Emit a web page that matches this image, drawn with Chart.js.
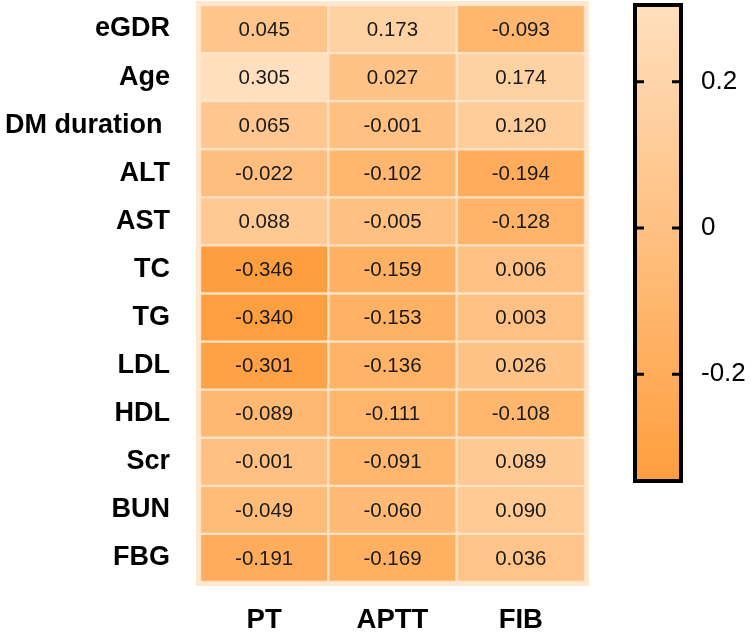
<!DOCTYPE html>
<html>
<head>
<meta charset="utf-8">
<script src="https://cdn.jsdelivr.net/npm/chart.js@4"></script>
<style>
  html, body { margin: 0; padding: 0; background: #fff; }
  #wrap { position: relative; width: 754px; height: 633px; }
  #heatBox { position: absolute; left: 0; top: 0; width: 600px; height: 633px; }
  #barBox { position: absolute; left: 620px; top: 0; width: 134px; height: 486px; }
</style>
</head>
<body>
<div id="wrap">
  <div id="heatBox"><canvas id="heat"></canvas></div>
  <div id="barBox"><canvas id="cbar"></canvas></div>
</div>
<script>
// ===== data =====
const rowNames = ['eGDR', 'Age', 'DM duration ', 'ALT', 'AST', 'TC', 'TG', 'LDL', 'HDL', 'Scr', 'BUN', 'FBG'];
const colNames = ['PT', 'APTT', 'FIB'];
const ptVals   = [0.045, 0.305, 0.065, -0.022, 0.088, -0.346, -0.340, -0.301, -0.089, -0.001, -0.049, -0.191];
const apttVals = [0.173, 0.027, -0.001, -0.102, -0.005, -0.159, -0.153, -0.136, -0.111, -0.091, -0.060, -0.169];
const fibVals  = [-0.093, 0.174, 0.120, -0.194, -0.128, 0.006, 0.003, 0.026, -0.108, 0.089, 0.090, 0.036];
const colorbarTicks = [-0.2, 0, 0.2];
const scaleMin = -0.346;
const scaleMax = 0.305;

const LIGHT = [255, 223, 190];
const DARK  = [255, 158, 62];
const GAP = '#FFE3C7';
const EDGE = '#FFE7D0';

Chart.defaults.font.family = '"Liberation Sans", Arial, sans-serif';
Chart.defaults.color = '#000';
Chart.defaults.animation = false;

function colorFor(v) {
  const t = Math.max(0, Math.min(1, (v - scaleMin) / (scaleMax - scaleMin)));
  const c = DARK.map((d, i) => Math.round(d + t * (LIGHT[i] - d)));
  return `rgb(${c[0]},${c[1]},${c[2]})`;
}

// tick padding would otherwise push the chart area down
function noVerticalPad(s) { s.paddingTop = 0; s.paddingBottom = 0; }

const columns = [ptVals, apttVals, fibVals];

// outer light frame behind the cells
const framePlugin = {
  id: 'frame',
  beforeDatasetsDraw(chart) {
    const { ctx, chartArea: a } = chart;
    ctx.save();
    ctx.fillStyle = EDGE;
    ctx.fillRect(a.left - 4, a.top - 4, a.right - a.left + 8, a.bottom - a.top + 8);
    ctx.restore();
  }
};

// numbers in the cells
const valuePlugin = {
  id: 'values',
  afterDatasetsDraw(chart) {
    const { ctx } = chart;
    ctx.save();
    ctx.font = '20.5px "Liberation Sans", Arial, sans-serif';
    ctx.fillStyle = '#1a1a1a';
    ctx.textAlign = 'center';
    ctx.textBaseline = 'middle';
    chart.data.datasets.forEach((ds, di) => {
      const meta = chart.getDatasetMeta(di);
      meta.data.forEach((bar, i) => {
        const p = bar.getCenterPoint();
        ctx.fillText(ds.values[i].toFixed(3), p.x, p.y + 1);
      });
    });
    ctx.restore();
  }
};

new Chart(document.getElementById('heat'), {
  type: 'bar',
  data: {
    labels: rowNames,
    datasets: columns.map((vals, c) => ({
      label: colNames[c],
      values: vals,
      data: vals.map(() => [c, c + 1]),
      backgroundColor: vals.map(colorFor),
      borderColor: GAP,
      borderWidth: 1.5,
      borderSkipped: false,
      barPercentage: 1,
      categoryPercentage: 1,
      grouped: false
    }))
  },
  options: {
    indexAxis: 'y',
    responsive: true,
    maintainAspectRatio: false,
    layout: { padding: { top: 5, right: 15, left: 0, bottom: 0 } },
    plugins: { legend: { display: false }, tooltip: { enabled: false } },
    scales: {
      x: { type: 'linear', min: 0, max: 3, display: false },
      colAxis: {
        type: 'category',
        labels: colNames,
        position: 'bottom',
        offset: true,
        grid: { display: false },
        border: { display: false },
        ticks: { font: { size: 27.5, weight: 'bold' }, padding: 14, color: '#000' },
        afterFit(s) { s.height = 51; }
      },
      y: {
        type: 'category',
        grid: { display: false },
        border: { display: false },
        ticks: { font: { size: 27, weight: 'bold' }, padding: 22, color: '#000' },
        afterFit(s) { s.width = 200; noVerticalPad(s); }
      }
    }
  },
  plugins: [framePlugin, valuePlugin]
});

// ===== colour bar =====
const cbarPlugin = {
  id: 'cbarFrame',
  afterDraw(chart) {
    const { ctx, chartArea: a } = chart;
    const y = chart.scales.y;
    ctx.save();
    ctx.strokeStyle = '#000';
    ctx.lineWidth = 3;
    colorbarTicks.forEach(v => {
      const py = y.getPixelForValue(v);
      ctx.beginPath();
      ctx.moveTo(a.left, py); ctx.lineTo(a.left + 9, py);
      ctx.moveTo(a.right, py); ctx.lineTo(a.right - 9, py);
      ctx.stroke();
    });
    ctx.lineWidth = 4;
    ctx.strokeRect(a.left, a.top, a.right - a.left, a.bottom - a.top);
    ctx.restore();
  }
};

new Chart(document.getElementById('cbar'), {
  type: 'bar',
  data: {
    labels: [''],
    datasets: [{
      data: [[scaleMin, scaleMax]],
      backgroundColor(ctx) {
        const area = ctx.chart.chartArea;
        if (!area) return colorFor(0);
        const g = ctx.chart.ctx.createLinearGradient(0, area.bottom, 0, area.top);
        g.addColorStop(0, colorFor(scaleMin));
        g.addColorStop(1, colorFor(scaleMax));
        return g;
      },
      borderWidth: 0,
      barPercentage: 1,
      categoryPercentage: 1
    }]
  },
  options: {
    responsive: true,
    maintainAspectRatio: false,
    layout: { padding: { top: 5, bottom: 5, left: 15, right: 0 } },
    plugins: { legend: { display: false }, tooltip: { enabled: false } },
    scales: {
      x: { display: false },
      y: {
        position: 'right',
        min: scaleMin,
        max: scaleMax,
        grid: { display: false },
        border: { display: false },
        afterBuildTicks(s) { s.ticks = colorbarTicks.map(v => ({ value: v })); },
        ticks: {
          font: { size: 26 },
          padding: 12,
          color: '#000',
          callback: v => (v === 0 ? '0' : String(v))
        },
        afterFit(s) { s.width = 73; noVerticalPad(s); }
      }
    }
  },
  plugins: [cbarPlugin]
});
</script>
</body>
</html>
